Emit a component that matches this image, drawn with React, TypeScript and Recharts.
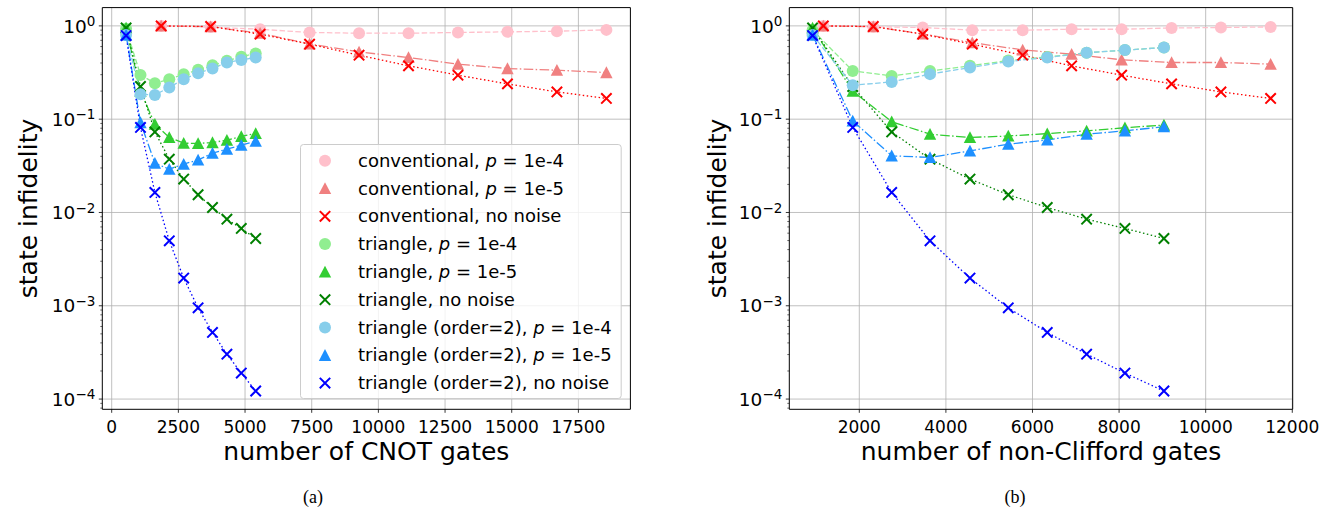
import React from 'react';
import { LineChart, Line, XAxis, YAxis, CartesianGrid, ReferenceArea, Label } from 'recharts';

const FONT = "'DejaVu Sans', sans-serif";

// ---------- x values (gate counts) ----------
const cnotConventional = [1855, 3710, 5565, 7420, 9275, 11130, 12985, 14840, 16695, 18550];
const cnotTriangle = [540, 1080, 1620, 2160, 2700, 3240, 3780, 4320, 4860, 5400];
const nonCliffordConventional = [1169, 2323, 3464, 4609, 5773, 6904, 8059, 9213, 10352, 11500];
const nonCliffordTriangle = [920, 1848, 2748, 3633, 4556, 5441, 6341, 7250, 8135, 9036];

// ---------- y values: noiseless (same in both panels) ----------
const conventionalNoNoise = [1.0, 0.985, 0.815, 0.637, 0.485, 0.373, 0.296, 0.239, 0.196, 0.167];
const triangleNoNoise = [0.95, 0.224, 0.073, 0.0373, 0.0228, 0.0155, 0.0113, 0.00848, 0.00674, 0.00526];
const triangle2NoNoise = [0.787, 0.0815, 0.0164, 0.00497, 0.00198, 0.00095, 0.000518, 0.000303, 0.00019, 0.000122];

// ---------- y values: panel (a) CNOT ----------
const cnotConvP4 = [1.0, 0.97, 0.92, 0.85, 0.835, 0.835, 0.85, 0.863, 0.877, 0.906];
const cnotConvP5 = [1.0, 0.98, 0.835, 0.64, 0.526, 0.458, 0.389, 0.349, 0.335, 0.316];
const cnotTriP4 = [0.93, 0.298, 0.243, 0.268, 0.303, 0.338, 0.379, 0.422, 0.466, 0.506];
const cnotTriP5 = [0.95, 0.2, 0.0884, 0.0637, 0.0553, 0.055, 0.0562, 0.0596, 0.0653, 0.0703];
const cnotTri2P4 = [0.8, 0.185, 0.182, 0.219, 0.268, 0.311, 0.349, 0.405, 0.432, 0.458];
const cnotTri2P5 = [0.8, 0.092, 0.0338, 0.0291, 0.033, 0.0366, 0.0432, 0.0477, 0.0526, 0.058];

// ---------- y values: panel (b) non-Clifford ----------
const ncConvP4 = [1.0, 0.98, 0.96, 0.9, 0.9, 0.92, 0.92, 0.95, 0.96, 0.975];
const ncConvP5 = [1.0, 0.98, 0.82, 0.66, 0.553, 0.497, 0.433, 0.405, 0.405, 0.389];
const ncTriP4 = [0.9, 0.329, 0.291, 0.329, 0.373, 0.425, 0.465, 0.515, 0.55, 0.586];
const ncTriP5 = [0.95, 0.2, 0.094, 0.069, 0.0637, 0.066, 0.07, 0.075, 0.081, 0.0865];
const ncTri2P4 = [0.8, 0.231, 0.251, 0.304, 0.358, 0.415, 0.458, 0.515, 0.55, 0.586];
const ncTri2P5 = [0.8, 0.096, 0.0405, 0.0389, 0.0457, 0.054, 0.06, 0.069, 0.075, 0.083];

// ---------- ticks ----------
const cnotTicks = [0, 2500, 5000, 7500, 10000, 12500, 15000, 17500];
const nonCliffordTicks = [2000, 4000, 6000, 8000, 10000, 12000];
const decadeTicks = [1e-4, 1e-3, 1e-2, 1e-1, 1];
const decadeExponents = ['\u22124', '\u22123', '\u22122', '\u22121', '0'];
const minorTicks: number[] = [];
[-5, -4, -3, -2, -1].forEach((e) => {
  for (let m = 2; m <= 9; m++) {
    const v = m * Math.pow(10, e);
    if (v > 7.77e-5 && v < 1.57) minorTicks.push(v);
  }
});
const yTicks = [...decadeTicks, ...minorTicks].sort((a, b) => a - b);

const legendLabels = [
  ['conventional, ', '1e-4'],
  ['conventional, ', '1e-5'],
  ['conventional, no noise', null],
  ['triangle, ', '1e-4'],
  ['triangle, ', '1e-5'],
  ['triangle, no noise', null],
  ['triangle (order=2), ', '1e-4'],
  ['triangle (order=2), ', '1e-5'],
  ['triangle (order=2), no noise', null],
];

const DASHED = '5.5 2.4';
const DASHDOT = '9.6 2.4 1.5 2.4';
const DOTTED = '1.5 2.5';

type Shape = 'circle' | 'triangle' | 'x';
const styles: { color: string; dash: string; shape: Shape }[] = [
  { color: '#FFC0CB', dash: DASHED, shape: 'circle' },
  { color: '#F08080', dash: DASHDOT, shape: 'triangle' },
  { color: '#FF0000', dash: DOTTED, shape: 'x' },
  { color: '#90EE90', dash: DASHED, shape: 'circle' },
  { color: '#32CD32', dash: DASHDOT, shape: 'triangle' },
  { color: '#008000', dash: DOTTED, shape: 'x' },
  { color: '#87CEEB', dash: DASHED, shape: 'circle' },
  { color: '#1E90FF', dash: DASHDOT, shape: 'triangle' },
  { color: '#0000FF', dash: DOTTED, shape: 'x' },
];

const markerEl = (shape: Shape, color: string, cx: number, cy: number, key?: any) => {
  if (shape === 'circle') return <circle key={key} cx={cx} cy={cy} r={6} fill={color} />;
  if (shape === 'triangle')
    return <path key={key} d={`M${cx},${cy - 6.2} L${cx + 6.2},${cy + 5.6} L${cx - 6.2},${cy + 5.6} Z`} fill={color} />;
  return (
    <path
      key={key}
      d={`M${cx - 5.2},${cy - 5.2} L${cx + 5.2},${cy + 5.2} M${cx + 5.2},${cy - 5.2} L${cx - 5.2},${cy + 5.2}`}
      stroke={color}
      strokeWidth={2}
      fill="none"
    />
  );
};

const makeDot = (shape: Shape, color: string) => (props: any) => {
  const { cx, cy, index } = props;
  if (cx == null || cy == null || isNaN(cx) || isNaN(cy)) return <g key={`e${index}`} />;
  return markerEl(shape, color, cx, cy, `d${index}`);
};

const zip = (xs: number[], ys: number[]) => xs.map((x, i) => ({ x, y: ys[i] }));

const PLOT_TOP = 7.6;
const PLOT_BOTTOM = 409.3;
const CHART_W = 665;
const CHART_H = 514;

const makeYTick = (plotLeft: number) => (props: any) => {
  const { y, payload } = props;
  const lg = Math.log10(payload.value);
  const idx = decadeTicks.findIndex((d) => Math.abs(Math.log10(d) - lg) < 1e-6);
  if (idx < 0)
    return <line x1={plotLeft} x2={plotLeft - 2} y1={y} y2={y} stroke="#000" strokeWidth={0.6} />;
  return (
    <g>
      <line x1={plotLeft} x2={plotLeft - 3.5} y1={y} y2={y} stroke="#000" strokeWidth={0.8} />
      <text x={plotLeft - 7} y={y + 6.7} textAnchor="end" fontFamily={FONT} fontSize={18.5} fill="#000">
        10
        <tspan dy={-6.5} fontSize={13.5}>
          {decadeExponents[idx]}
        </tspan>
      </text>
    </g>
  );
};

const XTick = (props: any) => {
  const { x, payload } = props;
  return (
    <g>
      <line x1={x} x2={x} y1={PLOT_BOTTOM} y2={PLOT_BOTTOM + 3.5} stroke="#000" strokeWidth={0.8} />
      <text x={x} y={432.7} textAnchor="middle" fontFamily={FONT} fontSize={17} fill="#000">
        {payload.value}
      </text>
    </g>
  );
};

type PanelProps = {
  left: number;
  plotLeft: number;
  plotRight: number;
  domain: [number, number];
  ticks: number[];
  convX: number[];
  triX: number[];
  ys: number[][];
  xLabel: string;
  caption: string;
  captionX: number;
  yLabelX: number;
};

const Panel = (p: PanelProps) => {
  const xs = [p.convX, p.convX, p.convX, p.triX, p.triX, p.triX, p.triX, p.triX, p.triX];
  const yDomain: [number, number] = [7.77e-5, 1.57];
  const midX = (p.plotLeft + p.plotRight) / 2;
  const midY = (PLOT_TOP + PLOT_BOTTOM) / 2;
  return (
    <div style={{ position: 'absolute', left: p.left, top: 0 }}>
      <LineChart
        width={CHART_W}
        height={CHART_H}
        margin={{ top: PLOT_TOP, right: CHART_W - p.plotRight, bottom: 0, left: 0 }}
      >
        <CartesianGrid
          horizontalValues={decadeTicks}
          verticalValues={p.ticks}
          stroke="#b0b0b0"
          strokeWidth={0.8}
        />
        <XAxis
          type="number"
          dataKey="x"
          domain={p.domain}
          allowDataOverflow
          ticks={p.ticks}
          interval={0}
          height={CHART_H - PLOT_BOTTOM}
          tick={XTick}
          tickLine={false}
          axisLine={false}
        >
          <Label
            content={() => (
              <g>
                <text x={midX} y={460} textAnchor="middle" fontFamily={FONT} fontSize={25} fill="#000">
                  {p.xLabel}
                </text>
                <text
                  x={p.captionX}
                  y={503}
                  textAnchor="middle"
                  fontFamily="'Liberation Serif', serif"
                  fontSize={18}
                  fill="#000"
                >
                  {p.caption}
                </text>
              </g>
            )}
          />
        </XAxis>
        <YAxis
          type="number"
          dataKey="y"
          scale="log"
          domain={yDomain}
          allowDataOverflow
          ticks={yTicks}
          interval={0}
          width={p.plotLeft}
          tick={makeYTick(p.plotLeft)}
          tickLine={false}
          axisLine={false}
        >
          <Label
            content={() => (
              <text
                x={p.yLabelX}
                y={midY}
                textAnchor="middle"
                fontFamily={FONT}
                fontSize={25}
                fill="#000"
                transform={`rotate(-90 ${p.yLabelX} ${midY})`}
              >
                state infidelity
              </text>
            )}
          />
        </YAxis>
        {styles.map((s, i) => (
          <Line
            key={i}
            data={zip(xs[i], p.ys[i])}
            dataKey="y"
            type="linear"
            stroke={s.color}
            strokeWidth={1.3}
            strokeDasharray={s.dash}
            dot={makeDot(s.shape, s.color)}
            activeDot={false}
            isAnimationActive={false}
            legendType="none"
          />
        ))}
        <ReferenceArea
          x1={p.domain[0]}
          x2={p.domain[1]}
          y1={yDomain[0]}
          y2={yDomain[1]}
          ifOverflow="visible"
          fill="none"
          fillOpacity={0}
          stroke="#000"
          strokeWidth={1}
        />
      </LineChart>
    </div>
  );
};

const LegendBox = () => {
  const boxL = 300;
  const boxT = 144.3;
  const boxW = 321.7;
  const boxH = 255;
  return (
    <svg
      style={{ position: 'absolute', left: boxL, top: boxT, overflow: 'visible' }}
      width={boxW}
      height={boxH}
    >
      <rect
        x={0.5}
        y={0.5}
        width={boxW - 1}
        height={boxH - 1}
        rx={3}
        ry={3}
        fill="#fff"
        fillOpacity={0.8}
        stroke="#cccccc"
        strokeWidth={1}
      />
      {legendLabels.map((lab, i) => {
        const cy = 16.7 + 27.8 * i;
        const s = styles[i];
        return (
          <g key={i}>
            {markerEl(s.shape, s.color, 25, cy)}
            <text x={58} y={cy + 6} fontFamily={FONT} fontSize={18} fill="#000">
              {lab[0]}
              {lab[1] !== null && (
                <>
                  <tspan fontStyle="italic">p</tspan>
                  <tspan> = {lab[1]}</tspan>
                </>
              )}
            </text>
          </g>
        );
      })}
    </svg>
  );
};

export default function App() {
  return (
    <div style={{ position: 'absolute', left: 0, top: 0, width: 1330, height: 514, background: '#fff' }}>
      <Panel
        left={0}
        plotLeft={102.3}
        plotRight={630.4}
        domain={[-352, 19450]}
        ticks={cnotTicks}
        convX={cnotConventional}
        triX={cnotTriangle}
        ys={[
          cnotConvP4,
          cnotConvP5,
          conventionalNoNoise,
          cnotTriP4,
          cnotTriP5,
          triangleNoNoise,
          cnotTri2P4,
          cnotTri2P5,
          triangle2NoNoise,
        ]}
        xLabel="number of CNOT gates"
        caption="(a)"
        captionX={313}
        yLabelX={37}
      />
      <Panel
        left={665}
        plotLeft={124.3}
        plotRight={627.7}
        domain={[383, 12010]}
        ticks={nonCliffordTicks}
        convX={nonCliffordConventional}
        triX={nonCliffordTriangle}
        ys={[
          ncConvP4,
          ncConvP5,
          conventionalNoNoise,
          ncTriP4,
          ncTriP5,
          triangleNoNoise,
          ncTri2P4,
          ncTri2P5,
          triangle2NoNoise,
        ]}
        xLabel="number of non-Clifford gates"
        caption="(b)"
        captionX={350}
        yLabelX={61}
      />
      <LegendBox />
    </div>
  );
}
